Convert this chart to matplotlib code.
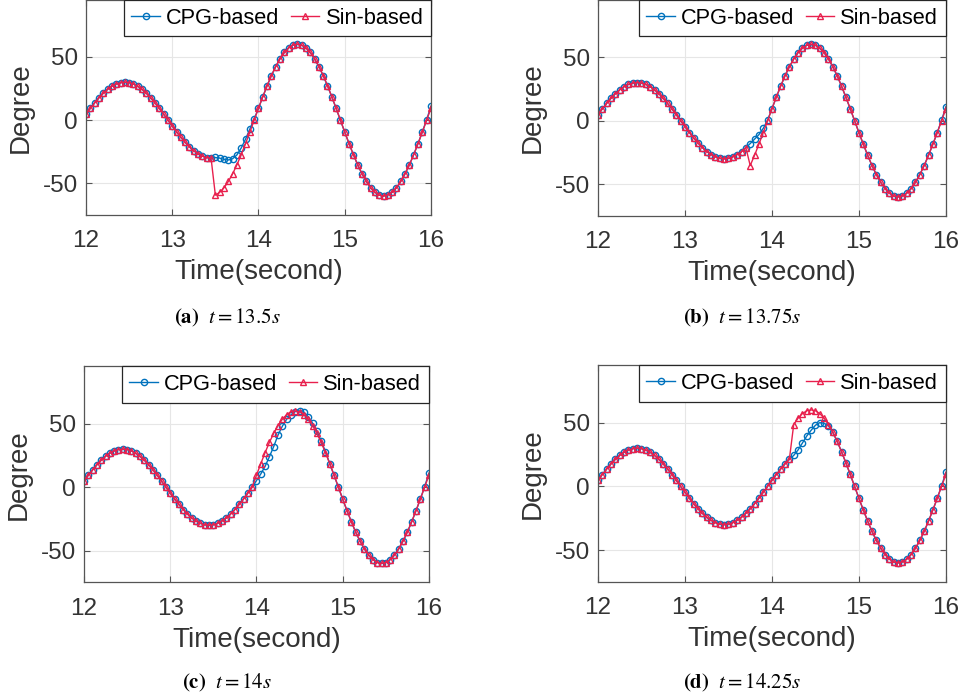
import matplotlib
matplotlib.use("Agg")
import matplotlib.pyplot as plt

plt.rcParams['font.family'] = ['Liberation Sans', 'DejaVu Sans']
plt.rcParams['mathtext.fontset'] = 'stix'
plt.rcParams['axes.unicode_minus'] = False

# sample times (s)
time = [12.00, 12.05, 12.10, 12.15, 12.20, 12.25, 12.30, 12.35, 12.40, 12.45,
        12.50, 12.55, 12.60, 12.65, 12.70, 12.75, 12.80, 12.85, 12.90, 12.95,
        13.00, 13.05, 13.10, 13.15, 13.20, 13.25, 13.30, 13.35, 13.40, 13.45,
        13.50, 13.55, 13.60, 13.65, 13.70, 13.75, 13.80, 13.85, 13.90, 13.95,
        14.00, 14.05, 14.10, 14.15, 14.20, 14.25, 14.30, 14.35, 14.40, 14.45,
        14.50, 14.55, 14.60, 14.65, 14.70, 14.75, 14.80, 14.85, 14.90, 14.95,
        15.00, 15.05, 15.10, 15.15, 15.20, 15.25, 15.30, 15.35, 15.40, 15.45,
        15.50, 15.55, 15.60, 15.65, 15.70, 15.75, 15.80, 15.85, 15.90, 15.95,
        16.00]

# (a) switch at t = 13.5 s
cpg_a = [4.7, 9.3, 13.6, 17.6, 21.2, 24.3, 26.7, 28.5, 29.6, 30.0,
         29.6, 28.5, 26.7, 24.3, 21.2, 17.6, 13.6, 9.3, 4.7, 0.0,
         -4.7, -9.3, -13.6, -17.6, -21.2, -24.3, -26.7, -28.5, -29.6, -30.0,
         -29.5, -30.0, -31.0, -31.5, -30.5, -27.5, -22.0, -15.0, -7.0, 1.0,
         9.4, 18.5, 27.2, 35.3, 42.4, 48.5, 53.5, 57.1, 59.3, 60.0,
         59.3, 57.1, 53.5, 48.5, 42.4, 35.3, 27.2, 18.5, 9.4, 0.0,
         -9.4, -18.5, -27.2, -35.3, -42.4, -48.5, -53.5, -57.1, -59.3, -60.0,
         -59.3, -57.1, -53.5, -48.5, -42.4, -35.3, -27.2, -18.5, -9.4, 0.5,
         11.0]
sin_a = [4.7, 9.3, 13.6, 17.6, 21.2, 24.3, 26.7, 28.5, 29.6, 30.0,
         29.6, 28.5, 26.7, 24.3, 21.2, 17.6, 13.6, 9.3, 4.7, 0.0,
         -4.7, -9.3, -13.6, -17.6, -21.2, -24.3, -26.7, -28.5, -29.6, -30.0,
         -59.3, -57.1, -53.5, -48.5, -42.4, -35.3, -27.2, -18.5, -9.4, 0.0,
         9.4, 18.5, 27.2, 35.3, 42.4, 48.5, 53.5, 57.1, 59.3, 60.0,
         59.3, 57.1, 53.5, 48.5, 42.4, 35.3, 27.2, 18.5, 9.4, 0.0,
         -9.4, -18.5, -27.2, -35.3, -42.4, -48.5, -53.5, -57.1, -59.3, -60.0,
         -59.3, -57.1, -53.5, -48.5, -42.4, -35.3, -27.2, -18.5, -9.4, 0.0,
         9.4]

# (b) switch at t = 13.75 s
cpg_b = [4.7, 9.3, 13.6, 17.6, 21.2, 24.3, 26.7, 28.5, 29.6, 30.0,
         29.6, 28.5, 26.7, 24.3, 21.2, 17.6, 13.6, 9.3, 4.7, 0.0,
         -4.7, -9.3, -13.6, -17.6, -21.2, -24.3, -26.7, -28.5, -29.6, -30.0,
         -29.6, -28.5, -26.7, -24.3, -21.2, -18.0, -14.5, -11.0, -6.0, 0.5,
         9.4, 18.5, 27.2, 35.3, 42.4, 48.5, 53.5, 57.1, 59.3, 60.0,
         59.3, 57.1, 53.5, 48.5, 42.4, 35.3, 27.2, 18.5, 9.4, 0.0,
         -9.4, -18.5, -27.2, -35.3, -42.4, -48.5, -53.5, -57.1, -59.3, -60.0,
         -59.3, -57.1, -53.5, -48.5, -42.4, -35.3, -27.2, -18.5, -9.4, 0.5,
         11.0]
sin_b = [4.7, 9.3, 13.6, 17.6, 21.2, 24.3, 26.7, 28.5, 29.6, 30.0,
         29.6, 28.5, 26.7, 24.3, 21.2, 17.6, 13.6, 9.3, 4.7, 0.0,
         -4.7, -9.3, -13.6, -17.6, -21.2, -24.3, -26.7, -28.5, -29.6, -30.0,
         -29.6, -28.5, -26.7, -24.3, -21.2, -35.3, -27.2, -18.5, -9.4, 0.0,
         9.4, 18.5, 27.2, 35.3, 42.4, 48.5, 53.5, 57.1, 59.3, 60.0,
         59.3, 57.1, 53.5, 48.5, 42.4, 35.3, 27.2, 18.5, 9.4, 0.0,
         -9.4, -18.5, -27.2, -35.3, -42.4, -48.5, -53.5, -57.1, -59.3, -60.0,
         -59.3, -57.1, -53.5, -48.5, -42.4, -35.3, -27.2, -18.5, -9.4, 0.0,
         9.4]

# (c) switch at t = 14 s
cpg_c = [4.7, 9.3, 13.6, 17.6, 21.2, 24.3, 26.7, 28.5, 29.6, 30.0,
         29.6, 28.5, 26.7, 24.3, 21.2, 17.6, 13.6, 9.3, 4.7, 0.0,
         -4.7, -9.3, -13.6, -17.6, -21.2, -24.3, -26.7, -28.5, -29.6, -30.0,
         -29.6, -28.5, -26.7, -24.3, -21.2, -17.6, -13.6, -9.3, -4.7, 0.0,
         5.2, 10.4, 16.4, 24.0, 32.0, 41.0, 48.0, 53.5, 57.0, 59.5,
         60.0, 59.0, 55.5, 50.5, 44.0, 36.5, 28.0, 18.5, 9.4, 0.0,
         -9.4, -18.5, -27.2, -35.3, -42.4, -48.5, -53.5, -57.1, -59.3, -60.0,
         -59.3, -57.1, -53.5, -48.5, -42.4, -35.3, -27.2, -18.5, -9.4, 0.5,
         11.0]
sin_c = [4.7, 9.3, 13.6, 17.6, 21.2, 24.3, 26.7, 28.5, 29.6, 30.0,
         29.6, 28.5, 26.7, 24.3, 21.2, 17.6, 13.6, 9.3, 4.7, 0.0,
         -4.7, -9.3, -13.6, -17.6, -21.2, -24.3, -26.7, -28.5, -29.6, -30.0,
         -29.6, -28.5, -26.7, -24.3, -21.2, -17.6, -13.6, -9.3, -4.7, 0.0,
         9.4, 18.5, 27.2, 35.3, 42.4, 48.5, 53.5, 57.1, 59.3, 60.0,
         59.3, 57.1, 53.5, 48.5, 42.4, 35.3, 27.2, 18.5, 9.4, 0.0,
         -9.4, -18.5, -27.2, -35.3, -42.4, -48.5, -53.5, -57.1, -59.3, -60.0,
         -59.3, -57.1, -53.5, -48.5, -42.4, -35.3, -27.2, -18.5, -9.4, 0.0,
         9.4]

# (d) switch at t = 14.25 s
cpg_d = [4.7, 9.3, 13.6, 17.6, 21.2, 24.3, 26.7, 28.5, 29.6, 30.0,
         29.6, 28.5, 26.7, 24.3, 21.2, 17.6, 13.6, 9.3, 4.7, 0.0,
         -4.7, -9.3, -13.6, -17.6, -21.2, -24.3, -26.7, -28.5, -29.6, -30.0,
         -29.6, -28.5, -26.7, -24.3, -21.2, -17.6, -13.6, -9.3, -4.7, 0.0,
         4.7, 9.3, 13.6, 17.6, 21.2, 24.3, 28.6, 34.0, 39.5, 44.0,
         48.0, 50.0, 49.5, 47.5, 42.4, 35.3, 27.2, 18.5, 9.4, 0.0,
         -9.4, -18.5, -27.2, -35.3, -42.4, -48.5, -53.5, -57.1, -59.3, -60.0,
         -59.3, -57.1, -53.5, -48.5, -42.4, -35.3, -27.2, -18.5, -9.4, 0.5,
         11.0]
sin_d = [4.7, 9.3, 13.6, 17.6, 21.2, 24.3, 26.7, 28.5, 29.6, 30.0,
         29.6, 28.5, 26.7, 24.3, 21.2, 17.6, 13.6, 9.3, 4.7, 0.0,
         -4.7, -9.3, -13.6, -17.6, -21.2, -24.3, -26.7, -28.5, -29.6, -30.0,
         -29.6, -28.5, -26.7, -24.3, -21.2, -17.6, -13.6, -9.3, -4.7, 0.0,
         4.7, 9.3, 13.6, 17.6, 21.2, 48.5, 53.5, 57.1, 59.3, 60.0,
         59.3, 57.1, 53.5, 48.5, 42.4, 35.3, 27.2, 18.5, 9.4, 0.0,
         -9.4, -18.5, -27.2, -35.3, -42.4, -48.5, -53.5, -57.1, -59.3, -60.0,
         -59.3, -57.1, -53.5, -48.5, -42.4, -35.3, -27.2, -18.5, -9.4, 0.0,
         9.4]

captions = [r"$\mathbf{(a)}\ \ t = 13.5s$", r"$\mathbf{(b)}\ \ t = 13.75s$",
            r"$\mathbf{(c)}\ \ t = 14s$", r"$\mathbf{(d)}\ \ t = 14.25s$"]
x_ticks = [12, 13, 14, 15, 16]
y_ticks = [-50, 0, 50]

blue = '#0072BD'
red = '#E8204D'
grey = '#333333'

fig = plt.figure(figsize=(9.62, 6.99), dpi=100)

# axes boxes (left, bottom, width, height) in figure fractions
boxes = [(0.0894, 0.6924, 0.3586, 0.3076),
         (0.6216, 0.6910, 0.3617, 0.3090),
         (0.0873, 0.1667, 0.3586, 0.3090),
         (0.6216, 0.1674, 0.3617, 0.3100)]
cap_pos = [(0.236, 0.545), (0.771, 0.545), (0.236, 0.023), (0.771, 0.023)]
panels = [(cpg_a, sin_a), (cpg_b, sin_b), (cpg_c, sin_c), (cpg_d, sin_d)]

for i, (cpg, sin) in enumerate(panels):
    ax = fig.add_axes(boxes[i])
    ax.plot(time, cpg, '-o', color=blue, lw=1.0, ms=4.5, mfc='none', mew=1.0,
            label='CPG-based')
    ax.plot(time, sin, '-^', color=red, lw=1.0, ms=5, mfc='none', mew=1.0,
            label='Sin-based')
    ax.set_xlim(12, 16)
    ax.set_ylim(-75, 95)
    ax.set_xticks(x_ticks)
    ax.set_yticks(y_ticks)
    ax.grid(True, color='#e6e6e6', lw=0.8)
    ax.set_axisbelow(True)
    ax.tick_params(direction='in', length=4, width=0.8, top=True, right=True,
                   labelsize=17.5, colors='#555555', labelcolor=grey)
    ax.tick_params(axis='x', pad=11)
    ax.tick_params(axis='y', pad=6)
    for s in ax.spines.values():
        s.set_color('#555555')
        s.set_linewidth(0.9)
    ax.set_xlabel('Time(second)', fontsize=20, color=grey, labelpad=5)
    ax.set_ylabel('Degree', fontsize=20, color=grey, labelpad=6)
    leg = ax.legend(loc='upper right', ncol=2, fontsize=15.7, fancybox=False,
                    framealpha=1, edgecolor='#262626', borderaxespad=0,
                    handlelength=1.3, handletextpad=0.3, columnspacing=0.5,
                    borderpad=0.35)
    leg.get_frame().set_linewidth(0.9)
    fig.text(cap_pos[i][0], cap_pos[i][1], captions[i], ha='center',
             va='center', fontsize=15)

fig.savefig('out.png', dpi=100)
